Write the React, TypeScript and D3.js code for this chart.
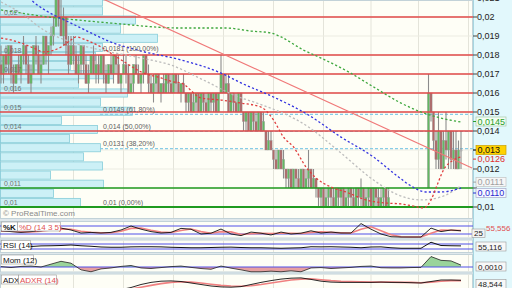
import React from "react";
import * as d3 from "d3";

// ---------- price bars (null = no trading) ----------
const opens: (number | null)[] = [
  .0175,.0170,.0180,.0175,.0185,.0170,.0165,.0175,.0170,.0180,.0185,.0175,.0165,.0170,.0185,.0180,.0170,.0175,.0190,.0180,.0185,.0190,
  .0195,.0210,.0200,.0190,.0200,.0185,
  .0175,.0185,.0180,.0170,.0175,.0185,.0175,.0165,.0170,.0180,.0170,.0175,
  .0170,.0180,.0170,.0165,.0175,.0170,.0180,.0175,.0165,.0170,.0175,.0170,.0160,.0165,.0175,.0170,.0165,.0170,.0180,.0170,
  .0165,.0160,.0165,.0170,.0160,.0165,.0160,.0170,.0165,
  .0160,.0170,.0165,.0160,.0165,.0160,.0155,.0160,.0150,.0155,.0160,.0150,.0160,.0155,.0150,.0160,.0155,.0160,.0150,
  .0160,.0170,.0160,.0165,.0150,.0160,.0155,.0150,.0160,
  .0150,.0145,.0150,.0140,.0150,.0145,.0140,.0150,.0140,
  .0140,.0130,.0135,
  .0130,.0125,.0120,.0130,.0120,
  .0120,.0115,.0120,.0110,.0120,.0115,.0110,.0120,.0110,.0115,.0120,.0110,
  .0115,.0110,.0105,.0110,.0100,.0105,.0110,.0105,.0100,.0110,.0105,.0110,.0100,.0105,.0110,.0105,.0100,.0110,.0105,.0110,.0100,.0105,.0110,.0100,.0110,.0105,.0100,.0105,.0110,.0100,
  null,null,null,null,null,null,null,null,null,null,null,null,null,null,null,
  .0110,.0160,.0150,.0135,.0125,.0140,.0120,.0135,.0130,.0140,.0125,.0130,.0120,.0130,
];
const highs: (number | null)[] = [
  .0185,.0180,.0185,.0185,.0185,.0175,.0175,.0180,.0180,.0190,.0185,.0180,.0175,.0185,.0190,.0185,.0180,.0190,.0190,.0185,.0195,.0200,
  .0215,.0215,.0210,.0205,.0200,.0190,
  .0190,.0190,.0185,.0180,.0185,.0185,.0180,.0175,.0180,.0185,.0180,.0180,
  .0180,.0180,.0175,.0175,.0180,.0180,.0180,.0180,.0170,.0180,.0180,.0175,.0170,.0175,.0180,.0175,.0170,.0180,.0180,.0175,
  .0170,.0170,.0170,.0170,.0165,.0170,.0170,.0170,.0170,
  .0170,.0170,.0170,.0165,.0170,.0160,.0160,.0160,.0160,.0160,.0160,.0160,.0160,.0160,.0160,.0160,.0160,.0160,.0160,
  .0180,.0170,.0170,.0170,.0160,.0160,.0160,.0160,.0160,
  .0150,.0150,.0150,.0150,.0150,.0150,.0150,.0150,.0150,
  .0140,.0140,.0140,
  .0130,.0130,.0130,.0130,.0130,
  .0120,.0120,.0120,.0120,.0120,.0120,.0120,.0120,.0120,.0130,.0120,.0120,
  .0115,.0110,.0110,.0110,.0110,.0110,.0110,.0110,.0110,.0110,.0110,.0110,.0110,.0110,.0110,.0110,.0110,.0110,.0115,.0110,.0110,.0110,.0110,.0110,.0110,.0110,.0110,.0110,.0110,.0110,
  null,null,null,null,null,null,null,null,null,null,null,null,null,null,null,
  .0170,.0160,.0150,.0140,.0150,.0140,.0140,.0150,.0140,.0140,.0140,.0140,.0135,.0140,
];
const lows: (number | null)[] = [
  .0165,.0165,.0170,.0170,.0165,.0160,.0165,.0170,.0165,.0175,.0170,.0165,.0160,.0170,.0175,.0170,.0165,.0175,.0175,.0170,.0180,.0185,
  .0195,.0195,.0190,.0185,.0180,.0170,
  .0175,.0175,.0170,.0165,.0170,.0170,.0165,.0160,.0170,.0170,.0165,.0165,
  .0170,.0165,.0160,.0165,.0170,.0165,.0170,.0165,.0160,.0170,.0165,.0160,.0160,.0160,.0170,.0165,.0160,.0165,.0170,.0160,
  .0160,.0155,.0160,.0160,.0155,.0160,.0160,.0160,.0160,
  .0160,.0160,.0160,.0155,.0160,.0150,.0150,.0150,.0150,.0150,.0150,.0150,.0150,.0150,.0150,.0150,.0150,.0150,.0150,
  .0160,.0160,.0160,.0150,.0150,.0150,.0150,.0150,.0150,
  .0140,.0140,.0140,.0140,.0140,.0140,.0140,.0140,.0140,
  .0130,.0130,.0130,
  .0120,.0120,.0120,.0120,.0115,
  .0110,.0110,.0110,.0110,.0110,.0110,.0110,.0110,.0110,.0110,.0110,.0110,
  .0105,.0100,.0100,.0100,.0100,.0100,.0100,.0100,.0100,.0100,.0100,.0100,.0100,.0100,.0100,.0100,.0100,.0100,.0100,.0100,.0100,.0100,.0100,.0100,.0100,.0100,.0100,.0100,.0100,.0100,
  null,null,null,null,null,null,null,null,null,null,null,null,null,null,null,
  .0110,.0145,.0130,.0120,.0120,.0120,.0120,.0125,.0120,.0120,.0120,.0120,.0120,.0120,
];
const closes: (number | null)[] = [
  .0170,.0180,.0175,.0185,.0170,.0165,.0175,.0170,.0180,.0185,.0175,.0165,.0170,.0185,.0180,.0170,.0175,.0190,.0180,.0185,.0190,.0195,
  .0210,.0200,.0190,.0200,.0185,.0175,
  .0185,.0180,.0170,.0175,.0185,.0175,.0165,.0170,.0180,.0170,.0175,.0170,
  .0180,.0170,.0165,.0175,.0170,.0180,.0175,.0165,.0170,.0175,.0170,.0160,.0165,.0175,.0170,.0165,.0170,.0180,.0170,.0165,
  .0160,.0165,.0170,.0160,.0165,.0160,.0170,.0165,.0160,
  .0170,.0165,.0160,.0165,.0160,.0155,.0160,.0150,.0155,.0160,.0150,.0160,.0155,.0150,.0160,.0155,.0160,.0150,.0160,
  .0170,.0160,.0165,.0150,.0160,.0155,.0150,.0160,.0150,
  .0145,.0150,.0140,.0150,.0145,.0140,.0150,.0140,.0145,
  .0130,.0135,.0130,
  .0125,.0120,.0130,.0120,.0125,
  .0115,.0120,.0110,.0120,.0115,.0110,.0120,.0110,.0115,.0120,.0110,.0115,
  .0110,.0105,.0110,.0100,.0105,.0110,.0105,.0100,.0110,.0105,.0110,.0100,.0105,.0110,.0105,.0100,.0110,.0105,.0110,.0100,.0105,.0110,.0100,.0110,.0105,.0100,.0105,.0110,.0100,.0105,
  null,null,null,null,null,null,null,null,null,null,null,null,null,null,null,
  .0160,.0150,.0135,.0125,.0140,.0120,.0135,.0130,.0140,.0125,.0130,.0120,.0130,.0130,
];

// ---------- moving averages (bar index, value) ----------
const maGreenIdx = [0, 8, 16, 27, 44, 72, 90, 100, 108, 112, 121, 128, 139, 149, 160, 168, 176, 184];
const maGreenVal = [.02037, .02021, .02005, .01989, .01968, .01942, .01942, .01926, .01916, .01895, .01826, .01784, .01711, .01632, .01547, .01500, .01468, .01447];
const maBlueIdx = [10, 13, 21, 27, 36, 44, 56, 72, 88, 96, 109, 123, 136, 149, 159, 164, 170, 176, 184];
const maBlueVal = [.02116, .02079, .02011, .01974, .01916, .01868, .01821, .01774, .01705, .01653, .01579, .01484, .01368, .01263, .01158, .01111, .01079, .01079, .01100];
const maGrayIdx = [0, 8, 17, 28, 40, 56, 68, 81, 95, 101, 123, 136, 149, 159, 168, 176, 184];
const maGrayVal = [.02079, .02021, .01932, .01868, .01826, .01784, .01747, .01668, .01579, .01553, .01421, .01284, .01142, .01063, .01037, .01053, .01111];
const maRedIdx = [0, 4, 8, 13, 17, 24, 28, 30, 34, 40, 45, 50, 56, 64, 69, 72, 80, 88, 96, 104, 109, 113, 117, 122, 126, 132, 138, 146, 154, 160, 165, 169, 172, 174, 177, 181, 184];
const maRedVal = [.01889, .01879, .01863, .01837, .01816, .01842, .01879, .01895, .01879, .01842, .01800, .01758, .01711, .01679, .01658, .01653, .01574, .01563, .01547, .01526, .01458, .01368, .01316, .01211, .01153, .01105, .01079, .01037, .01021, .01016, .01005, .00995, .01037, .01100, .01195, .01247, .01263];

const trendIdx = [30, 188.4];
const trendVal = [.0216, .01205];

// ---------- horizontal levels ----------
const resistLevels = [0.02, 0.018, 0.017, 0.016, 0.015, 0.014];
const supportLevels = [0.011, 0.01];
const levelLabels = ["0,02", "0,018", "0,017", "0,016", "0,015", "0,014", "0,011", "0,01"];
const fibLevels = [0.0181, 0.0149, 0.014, 0.0131, 0.01];
const fibLabels = ["0,0181 (100,00%)", "0,0149 (61,80%)", "0,014 (50,00%)", "0,0131 (38,20%)", "0,01 (0,00%)"];

// ---------- volume by price ----------
const profileStart = 0.01;
const profileBin = 0.00048;
const profileVol = [800, 530, 1030, 500, 1020, 830, 1000, 690, 970, 610, 1320, 1000, 1270, 780, 1130, 700, 950, 1020, 1570, 1200, 1350, 1020, 1020];

// ---------- axis ----------
const priceTicks = [0.01, 0.011, 0.012, 0.013, 0.014, 0.015, 0.016, 0.017, 0.018, 0.019, 0.02, 0.021];
const hiddenTickLabels = [0.011];
const gridIdx = [29, 49, 69, 89, 109, 129, 148, 167, 187];

// ---------- indicators (sampled every 4 bars) ----------
const stochK = [45,40,35,40,45,55,62,50,31,35,31,35,50,75,55,40,31,35,60,55,25,30,56,25,15,37,30,19,37,25,30,45,31,37,31,31,90,55,25,8,6,6,6,62,40,50,45];
const stochD = [42,42,38,38,42,50,57,55,42,36,33,33,42,60,62,48,37,34,47,56,40,30,40,38,22,27,30,28,30,30,28,35,38,35,33,31,55,70,45,20,8,6,6,30,50,48,47];
const rsi = [48,48,47,50,55,56,58,62,56,52,46,44,44,47,48,48,47,44,42,40,40,42,44,45,42,40,40,38,36,38,40,48,47,48,46,44,40,46,47,40,36,36,36,84,58,56,55];
const mom = [0.0002,-0.0003,0.0003,0.0005,0.0,0.0015,0.003,0.002,-0.0015,-0.0025,-0.001,-0.0005,0.0003,0.0008,-0.0005,-0.0008,-0.0003,0.0002,0.0005,-0.0002,-0.0008,-0.0012,0.0005,-0.0006,-0.0015,-0.0025,-0.0025,-0.0022,-0.0025,-0.002,-0.0025,-0.0005,-0.0003,-0.0008,-0.0005,-0.0002,0.0003,0.0005,-0.0004,-0.0005,-0.0005,-0.0003,-0.0002,0.0055,0.0035,0.0032,0.0010];
const adx = [18,17,16,15,15,16,18,20,20,19,18,17,18,25,35,42,46,47,45,40,35,30,27,26,28,35,42,48,53,56,57,52,46,43,42,42,42,42,43,42,42,41,40,45,50,50,49];
const adxr = [20,19,18,17,16,16,17,18,19,19,19,18,18,20,26,32,38,42,44,43,40,36,32,30,29,31,35,40,45,50,53,54,51,48,46,45,44,43,43,43,42,42,41,43,46,48,48];

const FONT = "'Liberation Sans', Arial, sans-serif";

export default function App() {
  const plotR = 473;
  const x = d3.scaleLinear().domain([0, 189]).range([1, 473.5]);
  const y = d3.scaleLinear().domain([0.01, 0.02]).range([207, 17]);
  const xVol = d3.scaleLinear().domain([0, 1600]).range([0, 160]);
  const fmt = d3.formatLocale({ decimal: ",", thousands: " ", grouping: [3], currency: ["", ""] }).format("~g");
  const sIdx = stochK.map((_, k) => k * 4);
  const yStoch = d3.scaleLinear().domain([0, 100]).range([238, 222]);
  const yRsi = d3.scaleLinear().domain([0, 100]).range([252.75, 240.25]);
  const yMom = d3.scaleLinear().domain([0, 0.001]).range([267, 265.1]);
  const yAdx = d3.scaleLinear().domain([0, 100]).range([295, 265]);

  const path = (idx: number[], vals: number[], ys: (v: number) => number, curve: d3.CurveFactory = d3.curveLinear) =>
    d3.line<number>().x((_, k) => x(idx[k])).y((v) => ys(v)).curve(curve)(vals) || "";
  const momArea = d3.area<number>().x((_, k) => x(sIdx[k])).y0(yMom(0)).y1((v) => yMom(v))(mom) || "";

  const panels = [
    { t: 0, b: 219 },
    { t: 221, b: 238.5 },
    { t: 239.5, b: 253 },
    { t: 254, b: 272.5 },
    { t: 273.5, b: 292 },
  ];

  const bars = opens.map((o, i) => ({ i, o, h: highs[i], l: lows[i], c: closes[i] })).filter((d) => d.o != null);

  const markers = [
    { v: 0.0145, txt: "0,0145", dy: 0, color: "#2a9d2a", bg: "#f3fdf3", stroke: "#a8c8a8" },
    { v: 0.013, txt: "0,013", dy: 0, color: "#111", bg: "#ffd200", stroke: "#c8a000" },
    { v: 0.0126, txt: "0,0126", dy: 1.5, color: "#e03030", bg: "none", stroke: "none" },
    { v: 0.0111, txt: "0,0111", dy: -4, color: "#a0a0a0", bg: "#f6f6f6", stroke: "#c4c4c4" },
    { v: 0.011, txt: "0,0110", dy: 5, color: "#2a2ad0", bg: "#f6f8ff", stroke: "#a8aac8" },
  ];

  const dash = "2.2,2.2";

  return (
    <div style={{ position: "fixed", left: 0, top: 0 }}>
      <svg width={512} height={288} style={{ display: "block", fontFamily: FONT }}>
        <defs>
          <clipPath id="mainClip"><rect x={0} y={0} width={plotR} height={219} /></clipPath>
          <clipPath id="momUp"><rect x={0} y={254} width={plotR} height={yMom(0) - 254} /></clipPath>
          <clipPath id="momDn"><rect x={0} y={yMom(0)} width={plotR} height={272.5 - yMom(0)} /></clipPath>
          <clipPath id="adxClip"><rect x={0} y={273.5} width={plotR} height={20} /></clipPath>
        </defs>
        <rect x={0} y={0} width={512} height={288} fill="#dfe8ec" />
        {panels.map((p, k) => (
          <rect key={k} x={0.5} y={p.t + 0.5} width={plotR - 1} height={p.b - p.t - 1} fill="#fefef6" stroke="#c2d2d8" strokeWidth={1} />
        ))}
        {/* vertical grid */}
        {gridIdx.map((g) => (
          <g key={g}>
            {panels.map((p, k) => (
              <line key={k} x1={x(g)} x2={x(g)} y1={p.t + 1} y2={p.b - 1} stroke="#e4e4da" strokeWidth={1} />
            ))}
          </g>
        ))}
        <g clipPath="url(#mainClip)">
          {priceTicks.map((t) => (
            <line key={t} x1={0} x2={plotR} y1={y(t)} y2={y(t)} stroke="#ecece2" strokeWidth={1} />
          ))}
          {/* volume by price */}
          {profileVol.map((v, k) => {
            const p0 = profileStart + k * profileBin;
            const yt = y(p0 + profileBin);
            const yb = y(p0);
            return (
              <rect key={k} x={0.5} y={yt + 0.5} width={xVol(v)} height={yb - yt - 1} fill="#ccf0f6" stroke="#86ccd9" strokeWidth={0.8} />
            );
          })}
          {/* fib lines */}
          {fibLevels.slice(1, 4).map((f) => (
            <line key={f} x1={100} x2={plotR} y1={y(f) + 0.5} y2={y(f) + 0.5} stroke="#88cce6" strokeWidth={1.2} strokeDasharray="3,2" />
          ))}
          {/* candles */}
          {bars.map((d) => {
            const cx = x(d.i);
            const up = (d.c as number) > (d.o as number);
            const dn = (d.c as number) < (d.o as number);
            const fill = up ? "#62b862" : dn ? "#b06a6a" : "#c8c8c8";
            const top = y(Math.max(d.o as number, d.c as number));
            const bot = y(Math.min(d.o as number, d.c as number));
            return (
              <g key={d.i}>
                <line x1={cx} x2={cx} y1={y(d.h as number)} y2={y(d.l as number)} stroke="#8c8c8c" strokeWidth={1.1} />
                <rect x={cx - 1.1} y={top} width={2.2} height={Math.max(1, bot - top)} fill={fill} stroke="#999" strokeWidth={0.4} />
              </g>
            );
          })}
          {/* horizontal levels */}
          {resistLevels.map((r) => (
            <line key={r} x1={0} x2={plotR} y1={y(r)} y2={y(r)} stroke="#e04848" strokeWidth={1.3} />
          ))}
          {supportLevels.map((s, k) => (
            <line key={s} x1={0} x2={plotR} y1={y(s)} y2={y(s)} stroke="#1f9a1f" strokeWidth={k === 1 ? 2 : 1.4} />
          ))}
          {/* moving averages */}
          <path d={path(maGrayIdx, maGrayVal, y, d3.curveMonotoneX)} fill="none" stroke="#bdbdbd" strokeWidth={1.3} strokeDasharray={dash} />
          <path d={path(maGreenIdx, maGreenVal, y, d3.curveMonotoneX)} fill="none" stroke="#3fa83f" strokeWidth={1.3} strokeDasharray={dash} />
          <path d={path(maBlueIdx, maBlueVal, y, d3.curveMonotoneX)} fill="none" stroke="#3434e0" strokeWidth={1.3} strokeDasharray={dash} />
          <path d={path(maRedIdx, maRedVal, y, d3.curveMonotoneX)} fill="none" stroke="#e03c3c" strokeWidth={1.3} strokeDasharray={dash} />
          <path d={path(trendIdx, trendVal, y)} fill="none" stroke="#f07878" strokeWidth={1.2} />
          {/* labels */}
          {[...resistLevels, ...supportLevels].map((lv, k) => (
            <text key={k} x={4} y={y(lv) - 2} fontSize={7} fill="#707070">{levelLabels[k]}</text>
          ))}
          {fibLevels.map((f, k) => (
            <text key={k} x={103} y={y(f) - 2} fontSize={7} fill="#606060">{fibLabels[k]}</text>
          ))}
          <text x={3} y={216} fontSize={8} fill="#8a8a8a">© ProRealTime.com</text>
        </g>

        {/* stochastic */}
        <line x1={0} x2={plotR} y1={yStoch(75)} y2={yStoch(75)} stroke="#5050e8" strokeWidth={1} />
        <line x1={0} x2={plotR} y1={yStoch(25)} y2={yStoch(25)} stroke="#5050e8" strokeWidth={1} />
        <path d={path(sIdx, stochD, yStoch)} fill="none" stroke="#f08080" strokeWidth={1.6} />
        <path d={path(sIdx, stochK, yStoch)} fill="none" stroke="#111" strokeWidth={0.9} />
        <rect x={1.5} y={222} width={16} height={9} fill="#fff" stroke="#999" strokeWidth={0.6} />
        <text x={3} y={229.5} fontSize={8} fill="#111" fontWeight="bold">%K</text>
        <rect x={17.5} y={222} width={43} height={9} fill="#fff" stroke="#999" strokeWidth={0.6} />
        <text x={19} y={229.5} fontSize={8} fill="#e05050">%D (14 3 5)</text>

        {/* RSI */}
        <line x1={0} x2={plotR} y1={yRsi(70)} y2={yRsi(70)} stroke="#5050e8" strokeWidth={1} />
        <line x1={0} x2={plotR} y1={yRsi(30)} y2={yRsi(30)} stroke="#5050e8" strokeWidth={1} />
        <path d={path(sIdx, rsi, yRsi)} fill="none" stroke="#111" strokeWidth={1} />
        <rect x={1.5} y={240.5} width={29} height={9} fill="#fff" stroke="#999" strokeWidth={0.6} />
        <text x={3} y={248} fontSize={8} fill="#111">RSI (14)</text>

        {/* Momentum */}
        <path d={momArea} fill="#9ad49a" clipPath="url(#momUp)" />
        <path d={momArea} fill="#e8a0a0" clipPath="url(#momDn)" />
        <line x1={0} x2={plotR} y1={yMom(0)} y2={yMom(0)} stroke="#5050e8" strokeWidth={1} />
        <path d={path(sIdx, mom, yMom)} fill="none" stroke="#222" strokeWidth={0.8} />
        <rect x={1.5} y={255} width={32} height={9} fill="#fff" stroke="#999" strokeWidth={0.6} />
        <text x={3} y={262.5} fontSize={8} fill="#111">Mom (12)</text>

        {/* ADX */}
        <g clipPath="url(#adxClip)">
          <path d={path(sIdx, adxr, yAdx)} fill="none" stroke="#f08080" strokeWidth={1.6} />
          <path d={path(sIdx, adx, yAdx)} fill="none" stroke="#111" strokeWidth={0.9} />
        </g>
        <rect x={1.5} y={275} width={17} height={9} fill="#fff" stroke="#999" strokeWidth={0.6} />
        <text x={3} y={282.5} fontSize={8} fill="#111">ADX</text>
        <rect x={18.5} y={275} width={38} height={9} fill="#fff" stroke="#999" strokeWidth={0.6} />
        <text x={20} y={282.5} fontSize={8} fill="#e05050">ADXR (14)</text>

        {/* right axis */}
        <rect x={plotR} y={0} width={512 - plotR} height={288} fill="#e2f8fc" />
        <line x1={plotR + 0.5} x2={plotR + 0.5} y1={0} y2={288} stroke="#a6d6e0" strokeWidth={1} />
        {priceTicks.map((t) => (
          <g key={t}>
            <line x1={plotR} x2={plotR + 4} y1={y(t)} y2={y(t)} stroke="#444" strokeWidth={1} />
            {!hiddenTickLabels.includes(t) && (
              <text x={477} y={y(t) + 3} fontSize={9} fill="#222">{fmt(t)}</text>
            )}
          </g>
        ))}
        {markers.map((m, k) => {
          const cy = y(m.v) + m.dy;
          return (
            <g key={k}>
              {m.bg !== "none" && <rect x={476} y={cy - 4.5} width={30} height={9} fill={m.bg} stroke={m.stroke} strokeWidth={0.7} />}
              <line x1={plotR} x2={plotR + 3} y1={cy} y2={cy} stroke={m.color === "#111" ? "#333" : m.color} strokeWidth={1} />
              <text x={477.5} y={cy + 3} fontSize={9} fill={m.color}>{m.txt}</text>
            </g>
          );
        })}
        {/* indicator value labels */}
        <rect x={472} y={229} width={13} height={8.5} fill="#f4f4f4" stroke="#999" strokeWidth={0.6} />
        <text x={474} y={236} fontSize={8} fill="#222">25</text>
        <text x={486} y={230.5} fontSize={8} fill="#e05050">55,556</text>
        <rect x={476} y={242} width={30} height={9} fill="#f8f8f8" stroke="#999" strokeWidth={0.6} />
        <text x={478} y={249.5} fontSize={8} fill="#222">55,116</text>
        <rect x={476} y={262} width={30} height={9} fill="#f8f8f8" stroke="#999" strokeWidth={0.6} />
        <text x={478} y={269.5} fontSize={8} fill="#222">0,0010</text>
        <rect x={476} y={279.5} width={30} height={9} fill="#f8f8f8" stroke="#999" strokeWidth={0.6} />
        <text x={478} y={287} fontSize={8} fill="#222">48,544</text>
      </svg>
    </div>
  );
}
